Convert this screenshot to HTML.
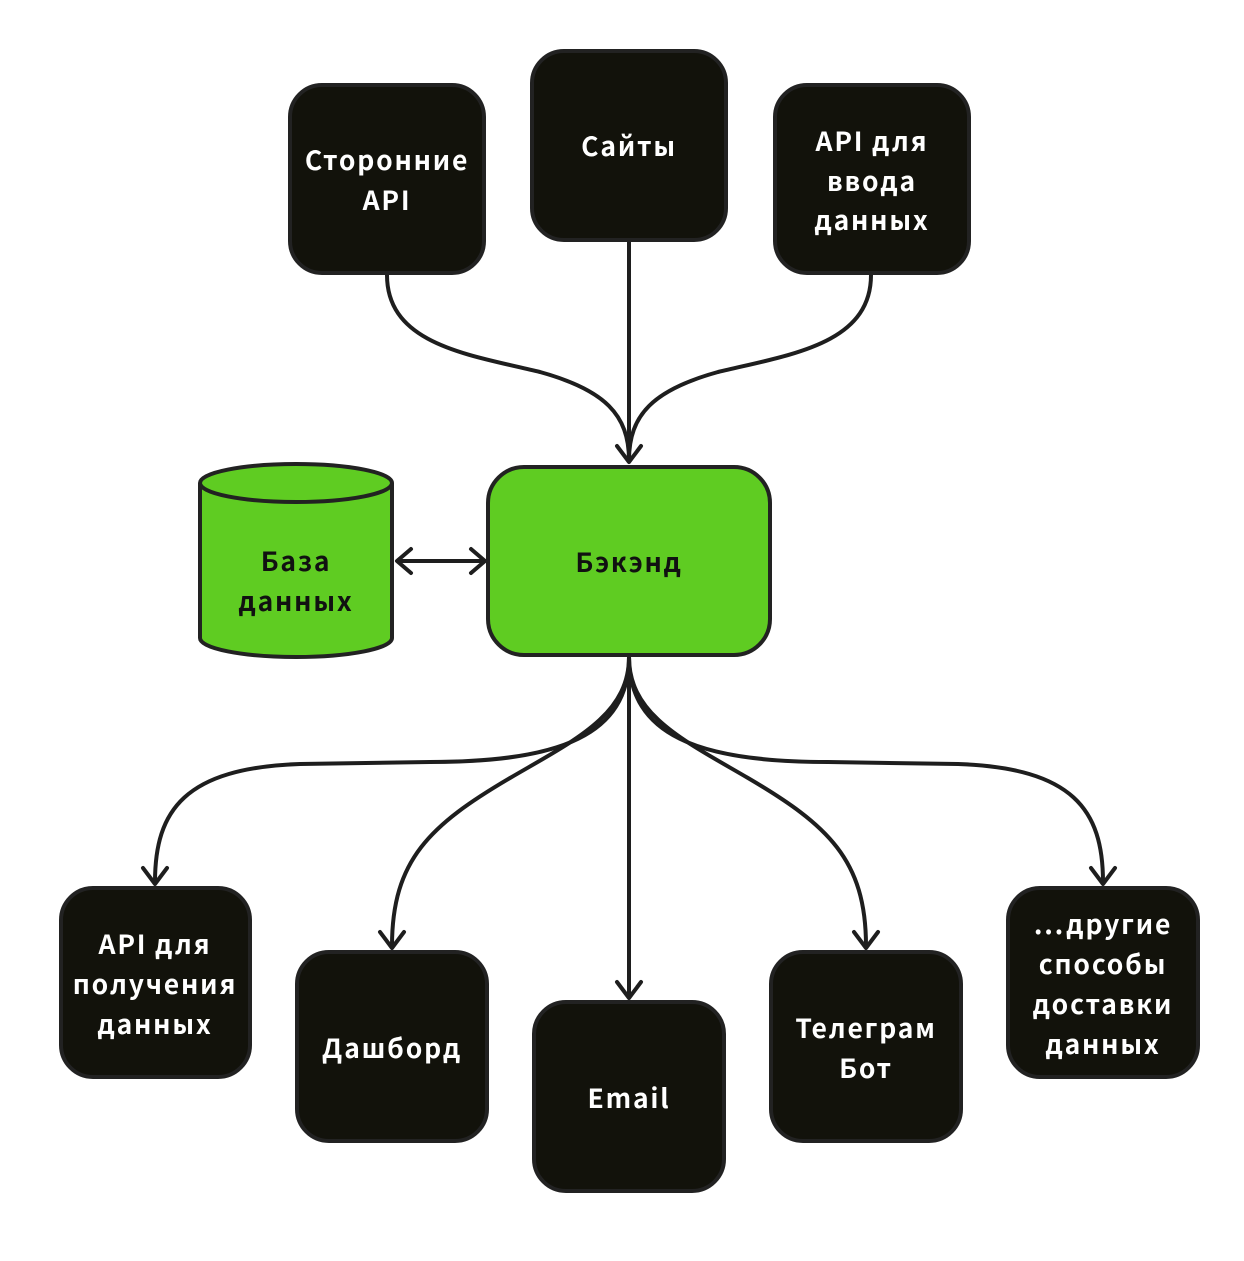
<!DOCTYPE html>
<html><head><meta charset="utf-8"><style>
html,body{margin:0;padding:0;background:#fff;}
text{font-family:"Noto Sans CJK SC","DejaVu Sans",sans-serif;font-weight:700;font-size:26.5px;letter-spacing:1.8px;text-anchor:middle;}
</style></head><body>
<svg width="1244" height="1256" viewBox="0 0 1244 1256" xmlns="http://www.w3.org/2000/svg">
<g fill="none" stroke="#1e1e1e" stroke-width="4" stroke-linecap="round" stroke-linejoin="round">
<path d="M387,275 C387,345 470,355 540,372 C605,390 629,415 629,460"/>
<path d="M871,275 C871,345 788,355 718,372 C653,390 629,415 629,460"/>
<path d="M629,241 L629,460"/>
<path d="M629,657 C629,735 560,762 430,762 L300,764 C185,768 155,810 155,882"/>
<path d="M629,657 C629,715 575,740 510,778 C430,825 392,860 392,946"/>
<path d="M629,657 L629,996"/>
<path d="M629,657 C629,715 683,740 748,778 C828,825 866,860 866,946"/>
<path d="M629,657 C629,735 698,762 828,762 L958,764 C1073,768 1103,810 1103,882"/>
<path d="M400,561 L482,561"/>
<path d="M617,446 L629,462 L641,446"/>
<path d="M143,868 L155,884 L167,868"/>
<path d="M380,932 L392,948 L404,932"/>
<path d="M617,982 L629,998 L641,982"/>
<path d="M854,932 L866,948 L878,932"/>
<path d="M1091,868 L1103,884 L1115,868"/>
<path d="M411,549 L397,561 L411,573"/>
<path d="M471,549 L485,561 L471,573"/>
</g>
<g fill="#12120b" stroke="#222" stroke-width="4">
<rect x="290" y="85" width="194" height="188" rx="32"/>
<rect x="532" y="51" width="194" height="189" rx="32"/>
<rect x="775" y="85" width="194" height="188" rx="32"/>
<rect x="61" y="888" width="189" height="189" rx="32"/>
<rect x="297" y="952" width="190" height="189" rx="32"/>
<rect x="534" y="1002" width="190" height="189" rx="32"/>
<rect x="771" y="952" width="190" height="189" rx="32"/>
<rect x="1008" y="888" width="190" height="189" rx="32"/>
</g>
<rect x="488" y="467" width="282" height="188" rx="36" fill="#5fcc22" stroke="#222" stroke-width="4"/>
<path d="M200,483 L200,638 A96,19 0 0 0 392,638 L392,483" fill="#5fcc22" stroke="#222" stroke-width="4"/>
<ellipse cx="296" cy="483" rx="96" ry="19" fill="#5fcc22" stroke="#222" stroke-width="4"/>
<g fill="#fff">
<text x="387" y="170">Сторонние</text><text x="387" y="210">API</text>
<text x="629" y="156">Сайты</text>
<text x="872" y="151">API для</text><text x="872" y="191">ввода</text><text x="872" y="230">данных</text>
<text x="155" y="954">API для</text><text x="155" y="994">получения</text><text x="155" y="1034">данных</text>
<text x="392" y="1058">Дашборд</text>
<text x="629" y="1108">Email</text>
<text x="866" y="1038">Телеграм</text><text x="866" y="1078">Бот</text>
<text x="1103" y="934">...другие</text><text x="1103" y="974">способы</text><text x="1103" y="1014">доставки</text><text x="1103" y="1054">данных</text>
</g>
<g fill="#111">
<text x="629" y="572">Бэкэнд</text>
<text x="296" y="571">База</text><text x="296" y="611">данных</text>
</g>
</svg>
</body></html>
